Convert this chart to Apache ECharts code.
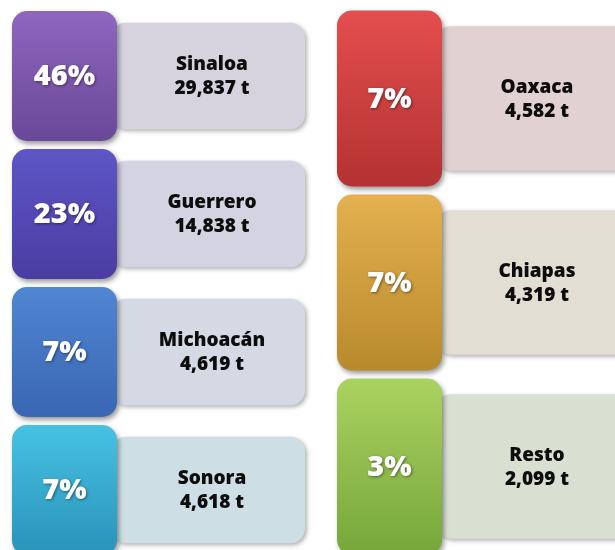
<!DOCTYPE html>
<html>
<head>
<meta charset="utf-8">
<script src="https://cdn.jsdelivr.net/npm/echarts@6/dist/echarts.min.js"></script>
<style>html,body{margin:0;padding:0;background:#fff}#c{width:615px;height:550px}</style>
</head>
<body>
<div id="c"></div>
<script>
// Data
const states = ['Sinaloa', 'Guerrero', 'Michoacán', 'Sonora', 'Oaxaca', 'Chiapas', 'Resto'];
const tonnes = [29837, 14838, 4619, 4618, 4582, 4319, 2099];
const percents = [46, 23, 7, 7, 7, 7, 3];
const leftStates = states.slice(0, 4);
const rightStates = states.slice(4);

// Styles
const tileTop = ['#8e66be', '#5e56c6', '#5086d2', '#46c2e2', '#e44e4e', '#e4b050', '#aad260'];
const tileBottom = ['#6a4898', '#4a3ca2', '#3a66b2', '#2a92ba', '#b43232', '#b88a2c', '#76a63a'];
const panelColors = ['#d6d3df', '#d4d3e1', '#d5d9e3', '#cedee5', '#e2d1d3', '#e2ded4', '#d9e0d1'];

const fmt = v => v.toLocaleString('en-US') + ' t';

function renderItem(params, api) {
  const idx = api.value(2);
  const p = api.coord([0, api.value(1)]);
  const band = api.size([0, 1])[1];
  const hc = band - 8;
  const wc = 105;
  const wp = 194;
  const top = p[1] - hc / 2;
  const hp = hc * 0.82;
  return {
    type: 'group',
    children: [
      {
        type: 'rect',
        shape: { x: p[0] + wc - 6, y: p[1] - hp / 2, width: wp, height: hp, r: 15 },
        style: {
          fill: panelColors[idx],
          shadowBlur: 4, shadowOffsetX: 2, shadowOffsetY: 2, shadowColor: 'rgba(0,0,0,0.3)'
        }
      },
      {
        type: 'rect',
        shape: { x: p[0], y: top, width: wc, height: hc, r: 15 },
        style: {
          fill: new echarts.graphic.LinearGradient(0, 0, 0, 1, [
            { offset: 0, color: tileTop[idx] },
            { offset: 1, color: tileBottom[idx] }
          ]),
          shadowBlur: 5, shadowOffsetX: 2, shadowOffsetY: 3, shadowColor: 'rgba(0,0,0,0.4)'
        }
      },
      {
        type: 'text',
        style: {
          text: percents[idx] + '%',
          x: p[0] + wc / 2, y: p[1] + 1,
          fill: '#ffffff',
          fontFamily: 'Open Sans', fontWeight: 800, fontSize: 29,
          align: 'center', verticalAlign: 'middle',
          textShadowBlur: 3, textShadowOffsetX: 1, textShadowOffsetY: 1, textShadowColor: 'rgba(0,0,0,0.45)'
        }
      },
      {
        type: 'text',
        style: {
          text: states[idx] + '\n' + fmt(tonnes[idx]),
          x: p[0] + wc + 95, y: p[1] + 1,
          fill: '#0d0d0d',
          fontFamily: 'Open Sans', fontWeight: 800, fontSize: 19, lineHeight: 24,
          align: 'center', verticalAlign: 'middle'
        }
      }
    ]
  };
}

const chart = echarts.init(document.getElementById('c'), null, { renderer: 'canvas' });
chart.setOption({
  backgroundColor: '#ffffff',
  animation: false,
  grid: [
    { left: 12, top: 0, width: 293, height: 550 },
    { left: 337, top: 0, width: 270, height: 550 }
  ],
  xAxis: [
    { type: 'value', min: 0, max: 1, show: false, gridIndex: 0 },
    { type: 'value', min: 0, max: 1, show: false, gridIndex: 1 }
  ],
  yAxis: [
    { type: 'value', min: -0.5507, max: 3.4348, inverse: true, show: false, gridIndex: 0 },
    { type: 'value', min: -0.5353, max: 2.4538, inverse: true, show: false, gridIndex: 1 }
  ],
  series: [
    {
      type: 'custom', xAxisIndex: 0, yAxisIndex: 0, clip: false,
      data: leftStates.map((s, i) => [0, i, i]),
      renderItem
    },
    {
      type: 'custom', xAxisIndex: 1, yAxisIndex: 1, clip: false,
      data: rightStates.map((s, i) => [0, i, i + 4]),
      renderItem
    }
  ]
});
</script>
</body>
</html>
